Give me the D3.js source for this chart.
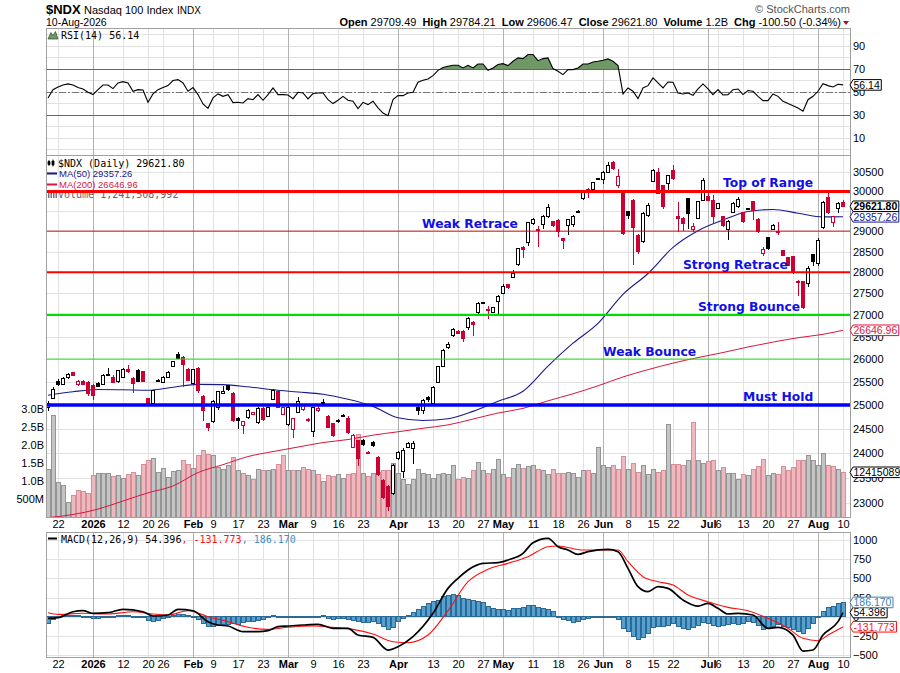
<!DOCTYPE html>
<html>
<head>
<meta charset="utf-8">
<title>$NDX Nasdaq 100 Index</title>
<script src="https://cdn.jsdelivr.net/npm/d3@7/dist/d3.min.js"></script>
<style>
  body { margin: 0; background: #fff; }
  svg { display: block; }
</style>
</head>
<body>
<svg id="chart" width="900" height="673"></svg>
<script>
// trading days: index 0 = 18-Dec-2025 ... index 159 = 10-Aug-2026
const tickIndex = [2, 9, 15, 20, 23, 29, 33, 38, 43, 48, 53, 58, 63, 70, 77, 82, 87, 91, 97, 102, 107, 111, 116, 121, 125, 132, 134, 139, 144, 149, 154, 159];
const tickLabels = ["22", "2026", "12", "20", "26", "Feb", "9", "17", "23", "Mar", "9", "16", "23", "Apr", "13", "20", "27", "May", "11", "18", "26", "Jun", "8", "15", "22", "Jul", "6", "13", "20", "27", "Aug", "10"];
const monthIndex = [9, 29, 48, 70, 91, 111, 132, 154];

const opens = [24940,25145,25518,25446,25590,25700,25446,25510,25496,25430,
  25474,25446,25640,25604,25500,25604,25780,25578,25755,25716,
  25145,25037,25520,25490,25600,25840,26111,26040,25760,25474,
  25800,25188,24600,24650,24957,25250,25420,25250,24720,24570,
  24735,24800,24630,24920,24760,25123,25280,24800,24585,24478,
  24850,24900,24700,24440,24880,25065,24760,24610,24680,24780,
  24715,24110,24250,24250,24010,24215,23910,23450,23330,23180,
  23880,23630,24110,24100,24957,24886,25170,25043,25496,25845,
  26250,26520,26630,26630,26710,26830,27060,27290,27120,27060,
  27310,27500,27710,27880,28190,28600,28730,29180,29030,29160,
  29370,29230,29260,28820,29130,29160,29470,29830,30060,30060,
  30320,30300,30490,30740,30160,29990,29480,29780,28890,28733,
  29380,30250,30480,30140,30210,30550,29360,29320,29820,29030,
  29320,29780,29880,29780,29570,29360,29030,29460,29610,29460,
  29540,29740,29290,28440,28845,29040,28985,28520,28350,28380,
  27790,27780,27730,28430,28200,29090,29850,29220,29570,29709.49];
const highs = [25080,25380,25560,25600,25690,25710,25530,25530,25520,25460,
  25500,25680,25800,25640,25770,25800,25860,25600,25780,25730,
  25160,25330,25560,25620,25730,25960,26160,26060,25800,25790,
  25820,25220,24620,25100,25300,25400,25440,25270,24740,24670,
  24920,24860,24960,24950,24980,25340,25300,24960,24980,24730,
  25170,25020,24720,24960,25000,25120,24780,24630,24700,24800,
  24760,24400,24270,24280,24040,24240,23930,23470,23350,23770,
  24040,24100,24230,24240,25000,25130,25190,25400,25850,26230,
  26390,26690,26650,26650,26950,26850,27300,27300,27200,27190,
  27460,27720,27730,28060,28590,28630,29230,29330,29120,29400,
  29680,29250,29300,28840,29300,29400,29520,30020,30080,30250,
  30350,30520,30760,30790,30580,30000,29500,29800,28940,29470,
  29700,30580,30600,30160,30430,30680,29730,29340,29840,29200,
  29760,30340,30000,29900,29700,29380,29270,29720,29860,29480,
  29580,29760,29320,28600,28860,29170,29220,28540,28370,28400,
  27810,27800,28150,28450,28820,29760,29950,29380,29730,29784.21];
const lows = [24880,25120,25420,25430,25570,25630,25420,25440,25200,25100,
  25380,25430,25620,25470,25480,25590,25700,25250,25500,25490,
  24980,25000,25500,25470,25590,25830,26000,25390,25510,25450,
  25250,24660,24460,24630,24900,25230,25310,24650,24500,24380,
  24700,24780,24600,24670,24740,25100,24930,24780,24560,24300,
  24830,24880,24650,24320,24860,24990,24510,24330,24630,24740,
  24400,24090,23740,24150,23970,24130,23540,23080,22830,23160,
  23860,23500,24090,23780,24790,24800,25060,25020,25480,25830,
  26230,26500,26560,26380,26660,26520,27000,27250,26900,27040,
  27030,27480,27610,27860,28150,28350,28640,29150,28620,29060,
  29330,29100,28850,28560,28900,29100,29440,29780,29830,29950,
  30300,30200,30470,30560,30080,28900,29300,28170,28430,28700,
  29350,30230,29930,29550,30000,30300,28990,29000,29050,28980,
  29300,29760,29760,29200,29550,29100,28780,29440,29590,29200,
  29520,29270,28950,28400,28540,29020,28900,28380,28140,27950,
  27440,27130,27640,28160,28150,29060,29430,29110,29440,29606.47];
const closes = [25030,25338,25446,25578,25666,25640,25511,25450,25250,25200,
  25403,25644,25660,25496,25755,25777,25720,25468,25518,25500,
  25037,25316,25530,25600,25710,25940,26022,25870,25530,25760,
  25316,24886,24520,25086,25280,25300,25330,24670,24680,24650,
  24886,24840,24930,24690,24957,25316,24950,24940,24957,24714,
  25080,24990,24680,24945,24930,25015,24530,24350,24650,24760,
  24420,24350,23880,24170,23990,24150,23570,23100,22930,23740,
  24010,24050,24190,24200,24886,25100,25110,25380,25830,26200,
  26330,26670,26580,26470,26915,26780,27270,27280,27100,27170,
  27430,27660,27630,27980,28570,28550,29210,29300,29040,29370,
  29580,29140,28980,28780,29280,29370,29480,29990,29965,30230,
  30330,30500,30680,30580,30380,28950,29400,29080,28490,29430,
  29630,30550,29950,29620,30410,30320,29320,29200,29430,29120,
  29740,30270,29780,29360,29680,29150,29250,29700,29800,29240,
  29560,29520,28980,28560,28575,29150,28965,28400,28160,28000,
  27750,27160,28080,28260,28780,29720,29460,29360,29700,29621.80];
// volume in billions of shares
const volumes = [1.31,2.83,0.96,0.87,0.41,0.61,0.75,0.70,0.66,1.15,
  1.21,1.21,1.21,1.12,1.15,1.07,1.19,1.24,1.15,1.46,
  1.58,1.63,1.24,1.35,1.09,1.26,1.28,1.56,1.47,1.35,
  1.72,1.86,1.75,1.70,1.37,1.32,1.42,1.65,1.28,1.21,
  1.14,1.03,1.31,1.28,1.28,1.33,1.46,1.72,1.28,1.28,
  1.28,1.37,1.31,1.30,1.19,1.00,1.14,1.12,1.17,1.07,
  1.17,1.21,2.30,1.21,1.12,1.21,1.24,1.28,1.28,1.49,
  1.21,1.03,0.89,1.03,1.32,1.21,1.17,1.07,1.17,1.21,
  1.17,1.44,1.05,1.09,1.07,1.28,1.52,1.28,1.21,1.31,
  1.60,1.17,1.09,1.35,1.47,1.35,1.40,1.42,1.32,1.28,
  1.19,1.32,1.21,1.21,1.24,1.21,1.09,1.28,1.28,1.21,
  1.94,1.42,1.38,1.44,1.32,1.69,1.31,1.49,1.24,1.42,
  1.19,1.32,1.24,1.28,2.57,1.47,1.46,1.44,1.56,2.63,
  1.58,1.50,1.53,1.56,1.28,1.37,1.21,1.21,1.03,1.19,
  1.14,1.32,1.40,1.61,1.14,1.21,1.17,1.40,1.28,1.37,
  1.56,1.58,1.72,1.58,1.44,1.77,1.44,1.40,1.32,1.2415];
const rsi = [44.8,52,54.3,56,57,56,53.8,52.6,49.7,47.7,
  52,56,56,52.9,57.8,59,57.8,50.6,52,51.7,
  41,48.3,52,53.8,55.5,59.9,60.7,57.8,50.6,53.8,
  47.7,39.6,35.8,44.8,48.3,46.2,47.7,40.7,41,40.4,
  44.2,43.3,47.7,42.8,47.7,53.5,47.7,47.7,47.4,44.2,
  49.7,49.1,43.9,48.6,49.1,49.1,43.3,39.9,42.8,46.2,
  42.8,41.9,35.5,41,39,41.9,36.1,31.7,29.4,43.3,
  46.8,46.8,49.1,49.7,58.4,60.1,61.3,64.2,68.8,71.2,
  72.3,73.2,73.2,70.9,73.2,70.9,74.3,74.3,68.8,70.9,
  73.8,74.6,72.9,76.7,79.6,79,82.5,82.5,77.2,79,
  79.6,70.3,68,65.1,69.4,69.4,70.9,74.3,74.3,76.1,
  76.7,77.5,78.7,76.7,72.9,48.3,53.5,50.6,44.2,53.5,
  55.5,62.2,57.8,53.5,58.7,58.4,49.1,48.3,49.1,47.1,
  52.6,57,52.6,47.7,52,47.4,47.7,52,52.6,47.7,
  51.2,50.6,46.2,42.5,42.5,48.3,46.2,41.9,39.9,38.1,
  36.1,33.2,43.3,46.2,50.6,57.2,55.5,54.3,56.7,56.14];

// moving averages, every fifth session
const maIndex = [0,5,10,15,20,25,30,35,40,45,50,55,60,65,70,75,80,85,90,95,100,105,110,115,120,125,130,135,140,145,150,155,159];
const ma50 = [25210,25285,25333,25327,25318,25383,25446,25440,25392,25328,25280,25231,25123,24972,24729,24671,24708,24865,25080,25296,25845,26355,26805,27477,27970,28600,29010,29275,29490,29542,29448,29355,29357.26];
const ma200 = [22710,22770,22876,23034,23196,23332,23600,23760,23925,24027,24120,24212,24275,24366,24436,24510,24580,24703,24830,24929,25090,25242,25414,25607,25767,25911,26034,26146,26270,26380,26478,26556,26646.96];

const macdIndex = [0,2,5,7,9,12,15,19,21,24,26,29,32,34,36,39,42,44,46,48,51,54,57,60,62,65,68,70,73,77,80,82,84,87,90,92,95,97,100,102,104,106,108,112,114,116,118,120,122,124,127,130,132,134,136,138,141,144,146,149,151,153,155,158,159];
const macdLine = [-22,-13,65,78,44,52,96,65,9,22,96,78,-65,-109,-122,-196,-196,-183,-131,-122,-109,-100,-152,-152,-240,-270,-436,-392,-261,44,370,501,610,697,706,741,828,967,1024,915,871,815,850,880,850,632,392,327,392,370,218,139,174,109,35,44,22,-152,-139,-240,-449,-436,-240,-65,54.396];
const signalIndex = [0,2,7,12,17,21,24,28,32,36,40,44,48,53,57,61,65,69,72,76,80,84,88,92,96,100,102,107,111,114,116,119,122,125,128,132,136,140,144,148,151,154,156,159];
const signalLine = [52,30,44,35,65,35,22,78,0,-65,-139,-166,-139,-122,-139,-166,-227,-327,-340,-240,78,457,619,697,784,915,924,871,871,871,719,523,457,414,283,196,122,78,-22,-152,-283,-314,-240,-131.773];
const histogram = [-87,-35,-9,13,22,13,9,0,-13,-26,
  -22,-9,0,0,9,13,9,-9,-9,-13,
  -52,-57,-44,-30,-13,9,35,35,9,0,
  -35,-87,-131,-122,-109,-100,-96,-87,-96,-78,
  -65,-57,-44,-35,-13,9,0,-9,-9,-9,
  0,0,-9,-9,0,9,-22,-35,-30,-22,
  -35,-44,-65,-74,-74,-65,-87,-131,-161,-139,
  -65,-26,22,57,96,139,166,196,218,270,
  279,296,283,240,231,209,196,187,139,109,
  96,96,87,109,109,122,144,152,122,109,
  96,65,0,-35,-52,-70,-65,-35,-22,-13,
  0,0,0,-9,-35,-152,-196,-253,-292,-270,
  -218,-139,-131,-122,-118,-87,-131,-152,-166,-139,
  -109,-78,-87,-109,-122,-109,-96,-87,-96,-87,
  -65,-78,-109,-166,-152,-122,-96,-122,-139,-166,
  -196,-218,-152,-87,0,65,122,139,166,186.17];

const levels = [30000, 29000, 28000, 27000, 26000, 25000];
const levelNames = ["Top of Range", "Weak Retrace", "Strong Retrace", "Strong Bounce", "Weak Bounce", "Must Hold"];

const rsiTicks = [10, 30, 50, 70, 90];
const rsiGrid = [0, 10, 20, 30, 40, 50, 60, 70, 80, 90, 100];
const priceTicks = [23000, 23500, 24000, 24500, 25000, 25500, 26000, 26500, 27000, 27500, 28000, 28500, 29000, 29500, 30000, 30500];
const volumeTicks = [0.5, 1, 1.5, 2, 2.5, 3];
const macdTicks = [-500, -250, 0, 250, 500, 750, 1000];

const quoteLabels = ["Open", "High", "Low", "Close", "Volume", "Chg"];
const quoteValues = ["29709.49", "29784.21", "29606.47", "29621.80", "1.2B", "-100.50 (-0.34%)"];

// ---------------------------------------------------------------------------
const svg = d3.select("#chart");
const sans = "'Liberation Sans', Arial, sans-serif";
const mono = "'DejaVu Sans Mono', monospace";
const bold = "'DejaVu Sans', Verdana, sans-serif";
const red = "#cc0033";
const navy = "#1a1a8c";
const crimson = "#d8173f";

const plotL = 46, plotR = 850;
const rsiTop = 28, rsiBot = 155;
const priceTop = 155, priceBot = 517;
const macdTop = 532, macdBot = 657;

const x = d3.scaleLinear().domain([-0.4, 160.4]).range([plotL, plotR]);
const yRsi = d3.scaleLinear().domain([-4.8, 105.6]).range([rsiBot, rsiTop]);
const yPrice = d3.scaleLog().domain([22722, 30947]).range([priceBot, priceTop]);
const yVol = d3.scaleLinear().domain([0, 3]).range([priceBot, 409]);
const yMacd = d3.scaleLinear().domain([-527, 1107]).range([macdBot, macdTop]);

const defs = svg.append("defs");
function clip(id, y0, y1) {
    defs.append("clipPath").attr("id", id).append("rect")
        .attr("x", plotL).attr("y", y0).attr("width", plotR - plotL).attr("height", y1 - y0);
    return "url(#" + id + ")";
}

function grid(g, yScale, values, top, bot) {
    g.selectAll(null).data(values).enter().append("line")
        .attr("x1", plotL).attr("x2", plotR)
        .attr("y1", d => Math.round(yScale(d)) + 0.5)
        .attr("y2", d => Math.round(yScale(d)) + 0.5)
        .attr("stroke", "#e2e2e2");
    g.selectAll(null).data(tickIndex).enter().append("line")
        .attr("x1", d => x(d) + 0.5).attr("x2", d => x(d) + 0.5)
        .attr("y1", top).attr("y2", bot)
        .attr("stroke", d => monthIndex.includes(d) ? "#b2b2b2" : "#e2e2e2");
}

// value tag on the right axis, pointing at the last value
function tag(yv, label, color, heavy) {
    const g = svg.append("g");
    const path = g.append("path");
    const t = g.append("text")
        .attr("x", plotR + 3.5).attr("y", yv + 3.8)
        .attr("font-family", sans).attr("font-size", 10.5)
        .attr("font-weight", heavy ? "bold" : "normal")
        .attr("fill", heavy ? "#000" : color)
        .text(label);
    const w = t.node().getComputedTextLength();
    const r = plotR + 3.5 + w + 1.5;
    path.attr("d", `M${plotR},${yv} L${plotR + 3},${yv - 5.3} L${r},${yv - 5.3} L${r},${yv + 5.3} L${plotR + 3},${yv + 5.3} Z`)
        .attr("fill", "#fff").attr("stroke", color);
}

function rightAxis(yScale, values, fmt) {
    svg.append("g").attr("transform", `translate(${plotR},0)`)
        .call(d3.axisRight(yScale).tickValues(values).tickSize(0).tickPadding(3).tickFormat(fmt))
        .attr("font-family", sans).attr("font-size", 11)
        .call(g => g.select(".domain").remove());
}

function dateAxis(yPos) {
    svg.append("g").attr("transform", `translate(0,${yPos})`)
        .call(d3.axisBottom(x).tickValues(tickIndex).tickSize(0).tickPadding(3)
            .tickFormat((d, k) => tickLabels[k]))
        .attr("font-family", sans).attr("font-size", 11)
        .call(g => g.select(".domain").remove())
        .selectAll("text")
        .attr("fill", "#000")
        .attr("font-weight", d => monthIndex.includes(d) ? "bold" : "normal");
}

// ---------------------------------------------------------------------------
// header
svg.append("text").attr("x", 46).attr("y", 14).attr("font-family", sans)
    .attr("font-size", 13).attr("font-weight", "bold").text("$NDX");
svg.append("text").attr("x", 84).attr("y", 14).attr("font-family", sans)
    .attr("font-size", 11).text("Nasdaq 100 Index");
svg.append("text").attr("x", 177).attr("y", 14).attr("font-family", sans)
    .attr("font-size", 10).text("INDX");
svg.append("text").attr("x", 46).attr("y", 26).attr("font-family", sans)
    .attr("font-size", 10.5).text("10-Aug-2026");
svg.append("text").attr("x", plotR).attr("y", 13).attr("text-anchor", "end")
    .attr("font-family", sans).attr("font-size", 11).attr("fill", "#555")
    .text("\u00a9 StockCharts.com");

const quote = svg.append("text").attr("x", 841).attr("y", 26).attr("text-anchor", "end")
    .attr("font-family", sans).attr("font-size", 11);
quoteLabels.forEach((lab, k) => {
    quote.append("tspan").attr("font-weight", "bold").attr("dx", k === 0 ? 0 : 6).text(lab);
    quote.append("tspan").attr("dx", 3).text(quoteValues[k]);
});
svg.append("path").attr("d", "M843,21 L849,21 L846,25 Z").attr("fill", "#a8102e");

// ---------------------------------------------------------------------------
// RSI panel
const rsiG = svg.append("g");
grid(rsiG, yRsi, rsiGrid, rsiTop, rsiBot);
const rsiClip = clip("rsiClip", rsiTop, rsiBot);
const overClip = clip("overClip", rsiTop, yRsi(70));
const underClip = clip("underClip", yRsi(30), rsiBot);

rsiG.append("path").datum(rsi).attr("clip-path", overClip)
    .attr("d", d3.area().x((d, i) => x(i)).y0(yRsi(70)).y1(d => yRsi(d)))
    .attr("fill", "#6e9966");
rsiG.append("path").datum(rsi).attr("clip-path", underClip)
    .attr("d", d3.area().x((d, i) => x(i)).y0(yRsi(30)).y1(d => yRsi(d)))
    .attr("fill", "#6e9966");
[70, 30].forEach(v => rsiG.append("line")
    .attr("x1", plotL).attr("x2", plotR)
    .attr("y1", Math.round(yRsi(v)) + 0.5).attr("y2", Math.round(yRsi(v)) + 0.5)
    .attr("stroke", "#666"));
rsiG.append("line").attr("x1", plotL).attr("x2", plotR)
    .attr("y1", Math.round(yRsi(50)) + 0.5).attr("y2", Math.round(yRsi(50)) + 0.5)
    .attr("stroke", "#777").attr("stroke-dasharray", "7,2,2,2");
rsiG.append("path").datum(rsi).attr("clip-path", rsiClip)
    .attr("d", d3.line().x((d, i) => x(i)).y(d => yRsi(d)))
    .attr("fill", "none").attr("stroke", "#000").attr("stroke-width", 1.1);

rsiG.append("path").attr("d", "M48,39 L51,32.5 L53,35.5 L55.5,31.5 L58,39 Z")
    .attr("fill", "#6e9966").attr("stroke", "#2f4a2a").attr("stroke-width", 0.7);
rsiG.append("text").attr("x", 61).attr("y", 39).attr("font-family", mono)
    .attr("font-size", 10).text("RSI(14) 56.14");

rightAxis(yRsi, rsiTicks, d3.format("d"));

// ---------------------------------------------------------------------------
// price panel with volume
const priceG = svg.append("g");
grid(priceG, yPrice, priceTicks, priceTop, priceBot);
const priceClip = clip("priceClip", priceTop, priceBot);

const bars = closes.map((c, i) => ({
    i: i, o: opens[i], h: highs[i], l: lows[i], c: c, v: volumes[i],
    up: i === 0 ? true : c >= closes[i - 1]
}));

priceG.append("g").attr("clip-path", priceClip).attr("shape-rendering", "crispEdges")
    .selectAll("rect").data(bars).enter().append("rect")
    .attr("x", d => x(d.i) - 2).attr("width", 4)
    .attr("y", d => yVol(d.v)).attr("height", d => priceBot - yVol(d.v))
    .attr("fill", d => d.up ? "#c4c4c4" : "#ebb9be")
    .attr("stroke", d => d.up ? "#959595" : "#d98d98");

// legend
priceG.append("text").attr("x", 58).attr("y", 198).attr("font-family", mono)
    .attr("font-size", 10).attr("fill", "#666").text("Volume 1,241,508,992");
priceG.append("path").attr("d", "M48,192h1.5v6h-1.5z M50.5,192h1.5v6h-1.5z M53,192h1.5v6h-1.5z M55.5,192h1.5v6h-1.5z")
    .attr("fill", "#777");
priceG.append("text").attr("x", 58).attr("y", 166.5).attr("font-family", mono)
    .attr("font-size", 10).text("$NDX (Daily) 29621.80");
priceG.append("path").attr("d", "M49,160v6 M48,161.5h2v3h-2z M53,159.5v7 M52,161h2v4h-2z")
    .attr("fill", "#000").attr("stroke", "#000").attr("stroke-width", 0.8);
priceG.append("line").attr("x1", 47).attr("x2", 57).attr("y1", 173.5).attr("y2", 173.5)
    .attr("stroke", navy).attr("stroke-width", 2);
priceG.append("text").attr("x", 59).attr("y", 177).attr("font-family", sans)
    .attr("font-size", 9.5).attr("fill", navy).text("MA(50) 29357.26");
priceG.append("line").attr("x1", 47).attr("x2", 57).attr("y1", 184.5).attr("y2", 184.5)
    .attr("stroke", crimson).attr("stroke-width", 2);
priceG.append("text").attr("x", 59).attr("y", 188).attr("font-family", sans)
    .attr("font-size", 9.5).attr("fill", crimson).text("MA(200) 26646.96");

// moving averages
const maLine = d3.line().x(d => x(d[0])).y(d => yPrice(d[1])).curve(d3.curveMonotoneX);
priceG.append("path").datum(maIndex.map((k, j) => [k, ma200[j]]))
    .attr("clip-path", priceClip).attr("d", maLine)
    .attr("fill", "none").attr("stroke", crimson).attr("stroke-width", 1);
priceG.append("path").datum(maIndex.map((k, j) => [k, ma50[j]]))
    .attr("clip-path", priceClip).attr("d", maLine)
    .attr("fill", "none").attr("stroke", navy).attr("stroke-width", 1.1);

// candles: hollow when close > open, red when close < previous close
const candles = priceG.append("g").attr("clip-path", priceClip).attr("shape-rendering", "crispEdges");
candles.selectAll("line").data(bars).enter().append("line")
    .attr("x1", d => x(d.i) + 0.5).attr("x2", d => x(d.i) + 0.5)
    .attr("y1", d => yPrice(d.h)).attr("y2", d => yPrice(d.l))
    .attr("stroke", d => d.up ? "#000" : red);
candles.selectAll("rect").data(bars).enter().append("rect")
    .attr("x", d => x(d.i) - 1.5).attr("width", 3)
    .attr("y", d => yPrice(Math.max(d.o, d.c)))
    .attr("height", d => Math.max(1, yPrice(Math.min(d.o, d.c)) - yPrice(Math.max(d.o, d.c))))
    .attr("fill", d => d.c > d.o ? "#fff" : (d.up ? "#000" : red))
    .attr("stroke", d => d.up ? "#000" : red);

// support / resistance levels
const levelStyle = [
    {color: "#ff0000", width: 3, labelX: 723},
    {color: "#cc1111", width: 1, labelX: 422},
    {color: "#ff0000", width: 2.2, labelX: 683},
    {color: "#00e000", width: 2.4, labelX: 698},
    {color: "#22dd22", width: 1, labelX: 603},
    {color: "#0000ff", width: 3.5, labelX: 743}
];
levels.forEach((v, k) => {
    const yl = yPrice(v);
    const st = levelStyle[k];
    priceG.append("line").attr("x1", plotL).attr("x2", plotR)
        .attr("y1", yl).attr("y2", yl)
        .attr("stroke", st.color).attr("stroke-width", st.width);
    priceG.append("text").attr("x", st.labelX).attr("y", yl - st.width / 2 - 2.5)
        .attr("font-family", bold).attr("font-weight", "bold").attr("font-size", 12.3)
        .attr("fill", "#0f0fe6").text(levelNames[k]);
});

rightAxis(yPrice, priceTicks, d3.format("d"));
svg.append("g").attr("transform", `translate(${plotL},0)`)
    .call(d3.axisLeft(yVol).tickValues(volumeTicks).tickSize(0).tickPadding(2)
        .tickFormat(v => v < 1 ? (v * 1000) + "M" : v.toFixed(1) + "B"))
    .attr("font-family", sans).attr("font-size", 11)
    .call(g => g.select(".domain").remove());

dateAxis(priceBot);

// ---------------------------------------------------------------------------
// MACD panel
const macdG = svg.append("g");
grid(macdG, yMacd, macdTicks, macdTop, macdBot);
const macdClip = clip("macdClip", macdTop, macdBot);

macdG.append("g").attr("clip-path", macdClip).attr("shape-rendering", "crispEdges")
    .selectAll("rect").data(histogram).enter().append("rect")
    .attr("x", (d, i) => x(i) - 2).attr("width", 4)
    .attr("y", d => Math.min(yMacd(d), yMacd(0)))
    .attr("height", d => Math.max(0.5, Math.abs(yMacd(d) - yMacd(0))))
    .attr("fill", "#55a0cf").attr("stroke", "#2a6a94");

const lineOf = d3.line().x(d => x(d[0])).y(d => yMacd(d[1])).curve(d3.curveMonotoneX);
macdG.append("path").datum(signalIndex.map((k, j) => [k, signalLine[j]]))
    .attr("clip-path", macdClip).attr("d", lineOf)
    .attr("fill", "none").attr("stroke", "#ff1010").attr("stroke-width", 1.1);
macdG.append("path").datum(macdIndex.map((k, j) => [k, macdLine[j]]))
    .attr("clip-path", macdClip).attr("d", lineOf)
    .attr("fill", "none").attr("stroke", "#000").attr("stroke-width", 1.7);

macdG.append("line").attr("x1", 48).attr("x2", 57).attr("y1", 538.5).attr("y2", 538.5)
    .attr("stroke", "#000").attr("stroke-width", 2);
const macdLegend = macdG.append("text").attr("x", 61).attr("y", 542.5)
    .attr("font-family", mono).attr("font-size", 10);
macdLegend.append("tspan").text("MACD(12,26,9) 54.396");
macdLegend.append("tspan").attr("fill", "#ff1010").text(", -131.773");
macdLegend.append("tspan").attr("fill", "#3a90c8").text(", 186.170");

rightAxis(yMacd, macdTicks, d3.format("d"));
dateAxis(macdBot);

// panel frames
[[rsiTop, rsiBot], [priceTop, priceBot], [macdTop, macdBot]].forEach(p => {
    svg.append("rect").attr("x", plotL + 0.5).attr("y", p[0] + 0.5)
        .attr("width", plotR - plotL).attr("height", p[1] - p[0])
        .attr("fill", "none").attr("stroke", "#a0a0a0");
});

// last-value tags
tag(yRsi(rsi[159]), "56.14", "#000", false);
tag(yPrice(ma200[ma200.length - 1]), "26646.96", crimson, false);
tag(yPrice(ma50[ma50.length - 1]), "29357.26", navy, false);
tag(yPrice(closes[159]), "29621.80", "#000", true);
tag(yVol(volumes[159]), "12415089", "#000", false);
tag(yMacd(signalLine[signalLine.length - 1]), "-131.773", "#ff1010", false);
tag(yMacd(macdLine[macdLine.length - 1]), "54.396", "#000", false);
tag(yMacd(histogram[159]), "186.170", "#3f7fb0", false);
</script>
</body>
</html>
